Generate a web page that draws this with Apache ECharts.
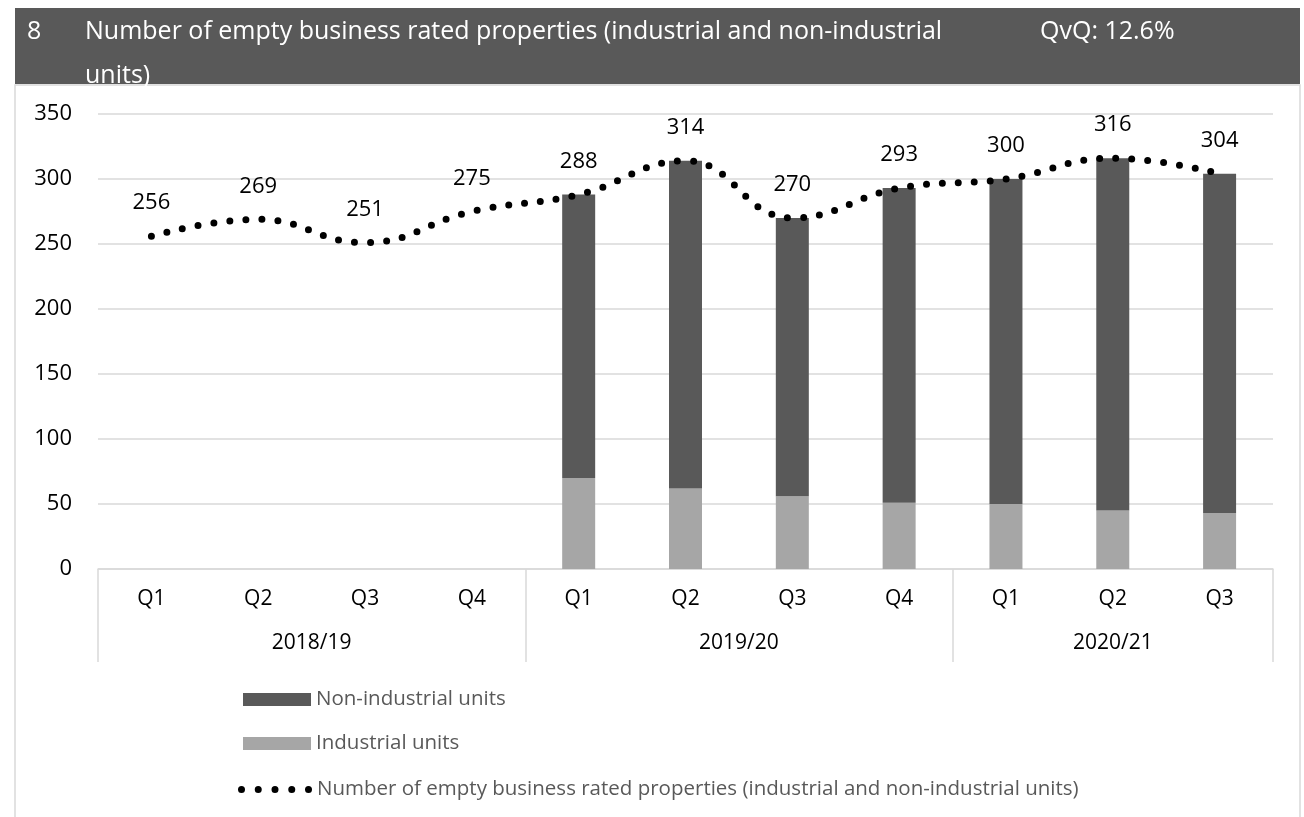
<!DOCTYPE html>
<html>
<head>
<meta charset="utf-8">
<script src="https://cdn.jsdelivr.net/npm/echarts@6/dist/echarts.min.js"></script>
<style>
  html, body { margin: 0; padding: 0; background: #fff; }
  #main { width: 1304px; height: 817px; }
</style>
</head>
<body>
<div id="main"></div>
<script>
const chartDom = document.getElementById('main');
const myChart = echarts.init(chartDom);

// Quarters along the bottom axis, grouped by financial year
const quarters = ['Q1', 'Q2', 'Q3', 'Q4', 'Q1', 'Q2', 'Q3', 'Q4', 'Q1', 'Q2', 'Q3'];
const years = ['2018/19', '2019/20', '2020/21'];
const yearSizes = [4, 4, 3];

// Series values (no split available for 2018/19)
const industrial = [null, null, null, null, 70, 62, 56, 51, 50, 45, 43];
const nonIndustrial = [null, null, null, null, 218, 252, 214, 242, 250, 271, 261];
const totalEmpty = [256, 269, 251, 275, 288, 314, 270, 293, 300, 316, 304];

const FONT = '"Open Sans", sans-serif';

// Half-quarter axis used for the year row: group boundaries and centres
const boundaries = [0];
const yearAt = {};
let pos = 0;
yearSizes.forEach((n, k) => {
    yearAt[pos + n] = years[k];
    pos += n * 2;
    boundaries.push(pos);
});
const halfLabels = [];
for (let i = 0; i <= quarters.length * 2; i++) halfLabels.push(yearAt[i] || '');

const headStyle = { color: '#fff', fontSize: 25, fontWeight: 'normal', lineHeight: 44, fontFamily: FONT };

const option = {
    animation: false,
    backgroundColor: '#fff',
    textStyle: { fontFamily: FONT },
    graphic: [
        {
            type: 'rect',
            shape: { x: 15, y: 85, width: 1285, height: 740 },
            style: { fill: '#fff', stroke: '#d9d9d9', lineWidth: 1.5 },
            z: -10
        },
        {
            type: 'rect',
            shape: { x: 15, y: 8, width: 1285, height: 76 },
            style: { fill: '#595959' },
            z: -5
        }
    ],
    title: [
        { text: '8', left: 22, top: 5, textStyle: headStyle },
        {
            text: 'Number of empty business rated properties (industrial and non-industrial\nunits)',
            left: 80, top: 5, textStyle: headStyle
        },
        { text: 'QvQ: 12.6%', left: 1035, top: 5, textStyle: headStyle }
    ],
    legend: [
        {
            orient: 'vertical',
            left: 238,
            top: 684,
            itemWidth: 68,
            itemHeight: 13,
            itemGap: 23,
            data: [
                { name: 'Non-industrial units', icon: 'rect' },
                { name: 'Industrial units', icon: 'rect' }
            ],
            textStyle: { color: '#595959', fontSize: 20.5, fontFamily: FONT }
        },
        {
            orient: 'vertical',
            left: 233,
            top: 774,
            itemWidth: 74,
            itemHeight: 7,
            data: [{
                name: 'Number of empty business rated properties (industrial and non-industrial units)',
                icon: 'path://M0,3.5a3.5,3.5 0 1,0 7,0a3.5,3.5 0 1,0 -7,0M16.75,3.5a3.5,3.5 0 1,0 7,0a3.5,3.5 0 1,0 -7,0M33.5,3.5a3.5,3.5 0 1,0 7,0a3.5,3.5 0 1,0 -7,0M50.25,3.5a3.5,3.5 0 1,0 7,0a3.5,3.5 0 1,0 -7,0M67,3.5a3.5,3.5 0 1,0 7,0a3.5,3.5 0 1,0 -7,0'
            }],
            textStyle: { color: '#595959', fontSize: 20.5, fontFamily: FONT }
        }
    ],
    grid: {
        left: 98,
        right: 31,
        top: 114,
        bottom: 248
    },
    xAxis: [
        {
            type: 'category',
            data: quarters,
            axisLine: { lineStyle: { color: '#d9d9d9', width: 1.5 } },
            axisTick: { show: false },
            axisLabel: { color: '#000', fontSize: 21, margin: 20, fontFamily: FONT }
        },
        {
            type: 'category',
            position: 'bottom',
            boundaryGap: false,
            data: halfLabels,
            axisLine: { show: false },
            axisTick: {
                show: true,
                length: 93,
                interval: (i) => boundaries.indexOf(i) !== -1,
                lineStyle: { color: '#d9d9d9', width: 1.5 }
            },
            axisLabel: {
                color: '#000',
                fontSize: 21,
                margin: 64,
                interval: (i) => !!yearAt[i],
                fontFamily: FONT
            },
            splitLine: { show: false }
        }
    ],
    yAxis: {
        type: 'value',
        min: 0,
        max: 350,
        interval: 50,
        axisLine: { show: false },
        axisTick: { show: false },
        axisLabel: { color: '#000', fontSize: 22, margin: 26, fontFamily: FONT },
        splitLine: { lineStyle: { color: '#d9d9d9', width: 1.5 } }
    },
    series: [
        {
            name: 'Industrial units',
            type: 'bar',
            stack: 'units',
            barWidth: 33,
            data: industrial,
            itemStyle: { color: '#a6a6a6' }
        },
        {
            name: 'Non-industrial units',
            type: 'bar',
            stack: 'units',
            barWidth: 33,
            data: nonIndustrial,
            itemStyle: { color: '#595959' }
        },
        {
            name: 'Number of empty business rated properties (industrial and non-industrial units)',
            type: 'line',
            data: totalEmpty,
            smooth: 0.45,
            symbol: 'circle',
            symbolSize: 0.1,
            itemStyle: { color: '#000' },
            lineStyle: { color: '#000', width: 7, type: [0, 16], cap: 'round' },
            label: {
                show: true,
                position: 'top',
                distance: 22,
                color: '#000',
                fontSize: 22,
                fontFamily: FONT
            },
            z: 5
        }
    ]
};

myChart.setOption(option);
window.onresize = () => myChart.resize();
</script>
</body>
</html>
